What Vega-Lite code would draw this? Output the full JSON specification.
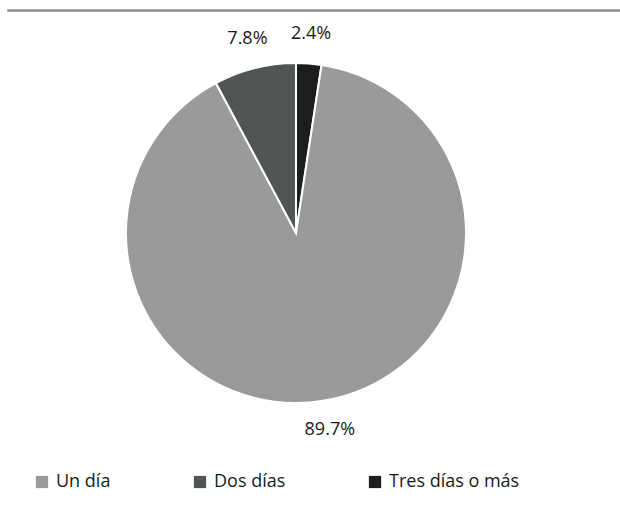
{
  "$schema": "https://vega.github.io/schema/vega-lite/v6.json",
  "padding": {"left": 7, "top": 9, "right": 0, "bottom": 0},
  "config": {"font": "Open Sans", "concat": {"spacing": 12}},
  "vconcat": [
    {
      "width": 613,
      "height": 1,
      "view": {"stroke": "#8c8c8c", "strokeWidth": 1.5},
      "data": {"values": []},
      "mark": {"type": "rule"},
      "encoding": {}
    },
    {
      "width": 576,
      "height": 400,
      "view": {"stroke": null},
      "data": {
        "values": [
          {"categoria": "Tres días o más", "pct": 2.4, "orden": 1, "label": "2.4%"},
          {"categoria": "Un día", "pct": 89.7, "orden": 2, "label": "89.7%"},
          {"categoria": "Dos días", "pct": 7.8, "orden": 3, "label": "7.8%"}
        ]
      },
      "encoding": {
        "theta": {"field": "pct", "type": "quantitative", "stack": true},
        "order": {"field": "orden", "type": "quantitative"}
      },
      "layer": [
        {
          "mark": {"type": "arc", "outerRadius": 170, "stroke": "#ffffff", "strokeWidth": 2},
          "encoding": {
            "color": {
              "field": "categoria",
              "type": "nominal",
              "scale": {
                "domain": ["Un día", "Dos días", "Tres días o más"],
                "range": ["#999b9b", "#525556", "#1c1e20"]
              },
              "legend": {
                "title": null,
                "orient": "none",
                "direction": "horizontal",
                "legendX": 25,
                "legendY": 463,
                "symbolType": "square",
                "symbolSize": 150,
                "symbolStrokeWidth": 0,
                "labelFontSize": 18,
                "labelFont": "Open Sans",
                "labelColor": "#1a1a1a",
                "labelOffset": 5,
                "columnPadding": 80
              }
            }
          }
        },
        {
          "mark": {"type": "text", "radius": 200, "fontSize": 18, "font": "Open Sans", "color": "#1a1a1a"},
          "encoding": {"text": {"field": "label", "type": "nominal"}}
        }
      ]
    }
  ]
}
